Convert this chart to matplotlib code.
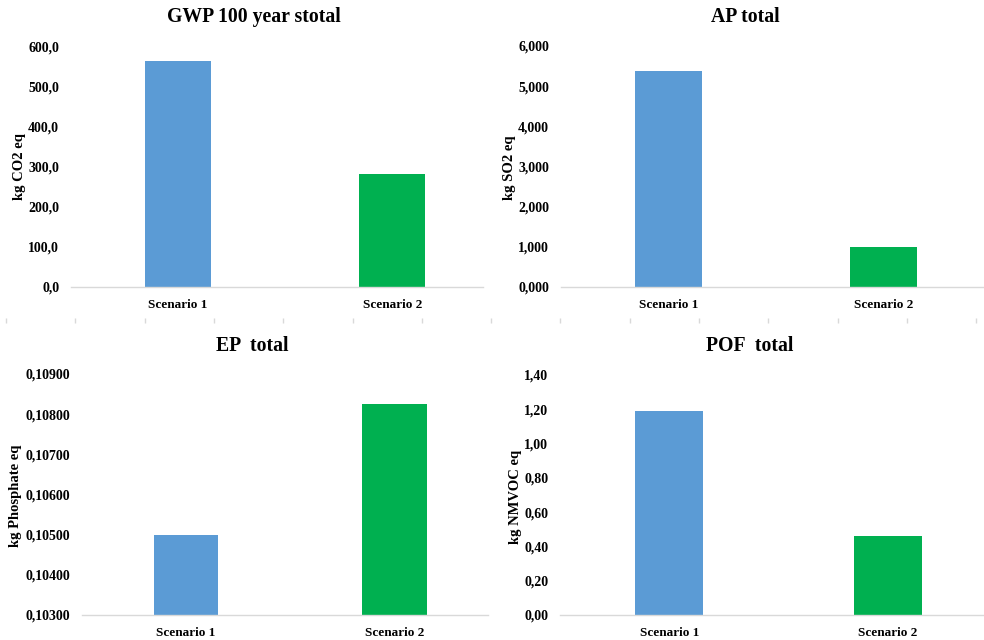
import numpy as np
import matplotlib
matplotlib.use("Agg")
import matplotlib.pyplot as plt

plt.rcParams['font.family'] = ['Liberation Serif', 'DejaVu Serif']
plt.rcParams['font.weight'] = 'bold'

scenarios = ["Scenario 1", "Scenario 2"]
bar_colors = ["#5B9BD5", "#00B050"]

titles = ["GWP 100 year stotal", "AP total", "EP  total", "POF  total"]
units = ["kg CO2 eq", "kg SO2 eq", "kg Phosphate eq", "kg NMVOC eq"]

gwp = [565.0, 282.5]
ap = [5.39, 1.00]
ep = [0.10500, 0.10826]
pof = [1.19, 0.462]

gwp_ticks = [0, 100, 200, 300, 400, 500, 600]
ap_ticks = [0, 1, 2, 3, 4, 5, 6]
ep_ticks = [0.103, 0.104, 0.105, 0.106, 0.107, 0.108, 0.109]
pof_ticks = [0.0, 0.2, 0.4, 0.6, 0.8, 1.0, 1.2, 1.4]

W, H = 984, 640
fig = plt.figure(figsize=(W / 100, H / 100), dpi=100)

# panel boxes in pixels: left, right, top, bottom, x upper limit, decimals
panels = [
    (gwp, gwp_ticks, 71, 483, 47, 287, 1.424, 1, (19, 167), (254, 17)),
    (ap, ap_ticks, 561, 984, 46, 287, 1.467, 3, (510, 168), (745, 17)),
    (ep, ep_ticks, 82, 488, 374, 615, 1.45, 5, (16, 496), (252, 346)),
    (pof, pof_ticks, 560, 984, 375, 615, 1.44, 2, (515, 497), (750, 346)),
]

for i, (vals, ticks, l, r, t, b, xr, dec, ylab, tpos) in enumerate(panels):
    ax = fig.add_axes([l / W, 1 - b / H, (r - l) / W, (b - t) / H])
    x = np.arange(len(scenarios))
    ax.bar(x, vals, width=0.31, color=bar_colors, zorder=2)
    ax.set_xlim(-0.5, xr)
    ax.set_ylim(ticks[0], ticks[-1])
    ax.set_yticks(ticks)
    ax.set_yticklabels([f"{v:.{dec}f}".replace(".", ",") for v in ticks],
                       fontsize=10, fontweight='bold')
    ax.set_xticks(x)
    ax.set_xticklabels(scenarios, fontsize=9.5, fontweight='bold')
    ax.tick_params(axis='both', length=0, pad=8.5)
    for s in ['left', 'right', 'top']:
        ax.spines[s].set_visible(False)
    ax.spines['bottom'].set_color('#d9d9d9')
    ax.spines['bottom'].set_linewidth(1.0)
    ax.patch.set_alpha(0)
    fig.text(ylab[0] / W, 1 - ylab[1] / H, units[i], rotation=90,
             ha='center', va='center', fontsize=10.5, fontweight='bold')
    fig.text(tpos[0] / W, 1 - tpos[1] / H, titles[i], ha='center',
             va='center', fontsize=14.2, fontweight='bold')

# faint tick row between the two rows of charts
deco = fig.add_axes([0, 0, 1, 1])
deco.set_xlim(0, W)
deco.set_ylim(H, 0)
deco.axis('off')
deco.patch.set_alpha(0)
deco.vlines(np.arange(6, W, 69.3), 318, 323, color='#d9d9d9', linewidth=1)

fig.savefig("out.png", dpi=100)
